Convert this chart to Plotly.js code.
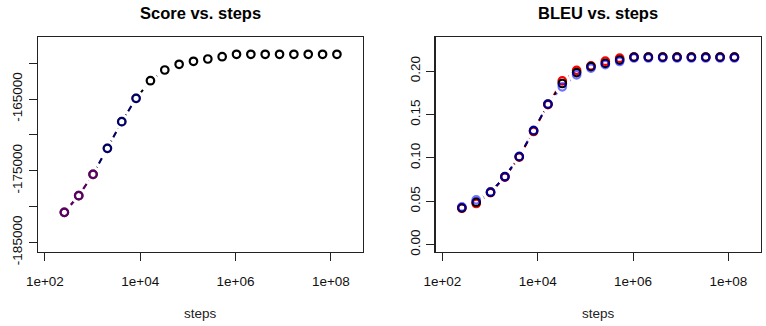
<!DOCTYPE html>
<html>
<head>
<meta charset="utf-8">
<script src="https://cdn.plot.ly/plotly-3.0.1.min.js"></script>
<style>html,body{margin:0;padding:0;background:#fff;}#chart{width:766px;height:326px;}</style>
</head>
<body>
<div id="chart"></div>
<script>
// ---- data ----
const steps = [256, 512, 1024, 2048, 4096, 8192, 16384, 32768, 65536, 131072,
  262144, 524288, 1048576, 2097152, 4194304, 8388608, 16777216, 33554432, 67108864, 134217728];

const scoreBlack = [-180800, -178480, -175500, -171870, -168150, -164890, -162430, -160935, -160140, -159720,
  -159400, -159080, -158745, -158745, -158745, -158745, -158745, -158745, -158745, -158745];
const scoreRed = [-180800, -178480, -175500];
const scoreBlue = [-180800, -178480, -175500, -171870, -168150, -164890];

const bleuBlack = [0.0425, 0.0490, 0.0605, 0.0785, 0.1015, 0.1314, 0.1620, 0.1858, 0.1984, 0.2052,
  0.2090, 0.2128, 0.2162, 0.2162, 0.2162, 0.2162, 0.2162, 0.2162, 0.2162, 0.2162];
const bleuRed = [0.0420, 0.0475, 0.0600, 0.0780, 0.1010, 0.1305, 0.1615, 0.1888, 0.2010, 0.2062,
  0.2115, 0.2150, 0.2163, 0.2163, 0.2163, 0.2163, 0.2163, 0.2163, 0.2163, 0.2163];
const bleuBlue = [0.0435, 0.0517, 0.0608, 0.0782, 0.1018, 0.1318, 0.1622, 0.1820, 0.1957, 0.2035,
  0.2075, 0.2112, 0.2152, 0.2152, 0.2152, 0.2152, 0.2152, 0.2152, 0.2152, 0.2152];

const xTickVals = [1e2, 1e4, 1e6, 1e8];
const xTickText = ['1e+02', '1e+04', '1e+06', '1e+08'];
const scoreTickVals = [-185000, -180000, -175000, -170000, -165000, -160000];
const scoreTickText = ['-185000', '', '-175000', '', '-165000', ''];
const bleuTickVals = [0, 0.05, 0.10, 0.15, 0.20];
const bleuTickText = ['0.00', '0.05', '0.10', '0.15', '0.20'];

const titles = ['Score vs. steps', 'BLEU vs. steps'];
const xLabel = 'steps';

// ---- build traces ----
const traces = [];
function lineTrace(y, color, ax, opacity) {
  return {x: steps.slice(0, y.length), y: y, mode: 'lines', xaxis: ax[0], yaxis: ax[1],
    line: {color: color, width: 2, dash: '6px,4px'}, opacity: opacity, hoverinfo: 'skip', showlegend: false};
}
function haloTrace(y, ax) {
  return {x: steps.slice(0, y.length), y: y, mode: 'markers', xaxis: ax[0], yaxis: ax[1],
    marker: {symbol: 'circle', size: 16, color: '#ffffff', line: {width: 0}}, hoverinfo: 'skip', showlegend: false};
}
function markTrace(y, color, ax, opacity) {
  return {x: steps.slice(0, y.length), y: y, mode: 'markers', xaxis: ax[0], yaxis: ax[1],
    marker: {symbol: 'circle-open', size: 7.5, color: color, line: {width: 2.2, color: color}},
    opacity: opacity, hoverinfo: 'skip', showlegend: false};
}
const A1 = ['x', 'y'], A2 = ['x2', 'y2'];
// left panel
traces.push(lineTrace(scoreBlack, '#000000', A1, 1));
traces.push(lineTrace(scoreRed, '#ff0000', A1, 0.6));
traces.push(lineTrace(scoreBlue, '#0000ff', A1, 0.4));
traces.push(haloTrace(scoreBlack, A1));
traces.push(markTrace(scoreBlack, '#000000', A1, 1));
traces.push(markTrace(scoreRed, '#ff0000', A1, 0.6));
traces.push(markTrace(scoreBlue, '#0000ff', A1, 0.4));
// right panel
traces.push(lineTrace(bleuRed, '#ff0000', A2, 1));
traces.push(lineTrace(bleuBlack, '#000000', A2, 1));
traces.push(lineTrace(bleuBlue, '#0000ff', A2, 0.5));
traces.push(haloTrace(bleuBlack, A2));
traces.push(haloTrace(bleuRed, A2));
traces.push(haloTrace(bleuBlue, A2));
traces.push(markTrace(bleuRed, '#ff0000', A2, 1));
traces.push(markTrace(bleuBlack, '#000000', A2, 1));
traces.push(markTrace(bleuBlue, '#0000ff', A2, 0.55));

const W = 766, H = 326;
const fontFam = 'Liberation Sans, Arial, Helvetica, sans-serif';
const tickFont = {family: fontFam, size: 13.5, color: '#111'};
function xAxis(domain, anchor) {
  return {type: 'log', domain: domain, anchor: anchor, range: [1.855, 8.675],
    tickvals: xTickVals, ticktext: xTickText, ticks: 'outside', ticklen: 8, tickwidth: 1, tickcolor: '#222',
    ticklabelstandoff: 9,
    showline: true, mirror: true, linecolor: '#222', linewidth: 1.2, showgrid: false, zeroline: false,
    tickfont: tickFont, fixedrange: true};
}
function yAxis(domain, anchor, range, tv, tt) {
  return {domain: domain, anchor: anchor, range: range, tickvals: tv, ticktext: tt, tickangle: -90,
    ticks: 'outside', ticklen: 8, tickwidth: 1, tickcolor: '#222', ticklabelstandoff: 1,
    showline: true, mirror: true, linecolor: '#222', linewidth: 1.2, showgrid: false, zeroline: false,
    tickfont: tickFont, fixedrange: true};
}
const yDom = [1 - 252 / H, 1 - 37 / H];
const layout = {
  width: W, height: H, autosize: false,
  margin: {l: 0, r: 0, t: 0, b: 0},
  paper_bgcolor: '#fff', plot_bgcolor: '#fff',
  showlegend: false,
  xaxis: xAxis([38 / W, 363 / W], 'y'),
  yaxis: yAxis(yDom, 'x', [-186340, -156330], scoreTickVals, scoreTickText),
  xaxis2: xAxis([435.5 / W, 760.5 / W], 'y2'),
  yaxis2: yAxis(yDom, 'x2', [-0.0084, 0.2394], bleuTickVals, bleuTickText),
  annotations: [
    {text: '<b>' + titles[0] + '</b>', xref: 'paper', yref: 'paper', x: 200.5 / W, y: 1 - 13 / H,
      xanchor: 'center', yanchor: 'middle', showarrow: false, font: {family: fontFam, size: 16.5, color: '#000'}},
    {text: '<b>' + titles[1] + '</b>', xref: 'paper', yref: 'paper', x: 598 / W, y: 1 - 13 / H,
      xanchor: 'center', yanchor: 'middle', showarrow: false, font: {family: fontFam, size: 16.5, color: '#000'}},
    {text: xLabel, xref: 'paper', yref: 'paper', x: 200.5 / W, y: 1 - 313 / H,
      xanchor: 'center', yanchor: 'middle', showarrow: false, font: {family: fontFam, size: 13.5, color: '#222'}},
    {text: xLabel, xref: 'paper', yref: 'paper', x: 598 / W, y: 1 - 313 / H,
      xanchor: 'center', yanchor: 'middle', showarrow: false, font: {family: fontFam, size: 13.5, color: '#222'}}
  ]
};
Plotly.newPlot('chart', traces, layout, {staticPlot: true, displayModeBar: false});
</script>
</body>
</html>
